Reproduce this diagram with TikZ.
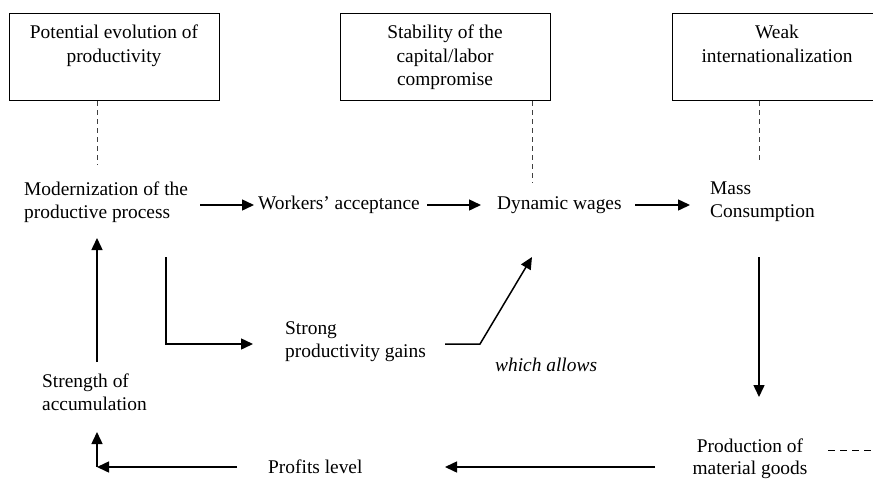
\documentclass[tikz,border=0pt]{standalone}
\usepackage{fontspec}
\setmainfont{Liberation Serif}
\newfontfamily\tms{Liberation Serif}
\usetikzlibrary{arrows.meta}
\begin{document}
\begin{tikzpicture}[x=1pt,y=-1pt,
  txt/.style={inner sep=0pt, font=\tms\fontsize{19.4}{22.8}\selectfont},
  boxnode/.style={draw, line width=1.1pt, minimum width=210pt, minimum height=87pt, anchor=north west, inner sep=0pt},
  arr/.style={line width=1.5pt, -{Triangle[length=12pt,width=11pt]}},
  dline/.style={line width=0.9pt, dash pattern=on 5pt off 4pt, black!75}]
\useasboundingbox (0,0) rectangle (873,480);
\begin{scope}
\clip (0,0) rectangle (873,480);
% boxes
\node[boxnode] (b1) at (9,13) {};
\node[boxnode] (b2) at (340,13) {};
\node[boxnode] (b3) at (672,13) {};
\node[txt, anchor=north, align=center, font=\tms\fontsize{19.4}{23.5}\selectfont] (t1) at (114,25) {Potential evolution of\\productivity};
\node[txt, anchor=north, align=center, font=\tms\fontsize{19.4}{23.5}\selectfont] (t2) at (445,25) {Stability of the\\capital/labor\\compromise};
\node[txt, anchor=north, align=center, font=\tms\fontsize{19.4}{23.5}\selectfont] (t3) at (777,25) {Weak\\internationalization};
% dashed links
\coordinate (d1) at (97,165);
\coordinate (d2) at (532,183);
\coordinate (d3) at (759,163);
\draw[dline] (d1 |- b1.south) -- (d1);
\draw[dline] (d2 |- b2.south) -- (d2);
\draw[dline] (d3 |- b3.south) -- (d3);
% text nodes
\node[txt, anchor=west, align=left] (mod) at (24,202) {Modernization of the\\productive process};
\node[txt, anchor=west] (wa) at (258,205) {Workers’ acceptance};
\node[txt, anchor=west] (dw) at (497,205) {Dynamic wages};
\node[txt, anchor=west, align=left] (mc) at (710,202) {Mass\\Consumption};
\node[txt, anchor=west, align=left] (spg) at (285,342) {Strong\\productivity gains};
\node[txt, anchor=west, font=\tms\fontsize{19.4}{22.8}\selectfont\itshape] (wal) at (495,365) {which allows};
\node[txt, anchor=west, align=left] (soa) at (42,392) {Strength of\\accumulation};
\node[txt, anchor=west] (pl) at (268,467) {Profits level};
\node[txt, anchor=center, align=center, font=\tms\fontsize{19.4}{21.5}\selectfont] (pmg) at (750,459) {Production of\\material goods};
% arrow end points
\coordinate (a1s) at (200,205); \coordinate (a1e) at (254,205);
\coordinate (a2s) at (427,205); \coordinate (a2e) at (481,205);
\coordinate (a3s) at (635,205); \coordinate (a3e) at (690,205);
\coordinate (ls) at (166,257); \coordinate (lc) at (166,344); \coordinate (le) at (253,344);
\coordinate (ds) at (445,344); \coordinate (dc) at (480,344); \coordinate (de) at (532,257);
\coordinate (vs) at (759,257); \coordinate (ve) at (759,397);
\coordinate (bs) at (655,467); \coordinate (be) at (445,467);
\coordinate (ps) at (237,467); \coordinate (pe) at (97,467);
\coordinate (us) at (97,467); \coordinate (ue) at (97,432);
\coordinate (ss) at (97,362); \coordinate (se) at (97,238);
\coordinate (pd) at (828,450); \coordinate (pdx) at (880,450);
% arrows
\draw[arr] (a1s) -- (a1e);
\draw[arr] (a2s) -- (a2e);
\draw[arr] (a3s) -- (a3e);
\draw[arr] (ls) -- (lc) -- (le);
\draw[arr] (ds) -- (dc) -- (de);
\draw[arr] (vs) -- (ve);
\draw[arr] (bs) -- (be);
\draw[arr] (ps) -- (pe);
\draw[arr] (us) -- (ue);
\draw[arr] (ss) -- (se);
\draw[line width=0.9pt, dash pattern=on 7pt off 5pt] (pd) -- (pdx);
\end{scope}
\end{tikzpicture}
\end{document}
